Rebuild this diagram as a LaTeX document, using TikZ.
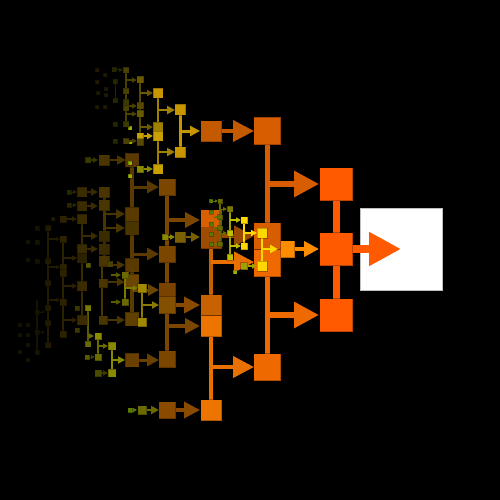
\documentclass[tikz,border=0pt]{standalone}
\usepackage{tikz}
\usetikzlibrary{arrows.meta}

\definecolor{fire}{HTML}{FF5A00}
\definecolor{amber}{HTML}{FF8C00}
\definecolor{emberA}{HTML}{D85C00}
\definecolor{emberB}{HTML}{EE6A00}
\definecolor{emberC}{HTML}{C45A00}
\definecolor{emberD}{HTML}{E87000}
\definecolor{emberE}{HTML}{C86200}
\definecolor{umber}{HTML}{9A4A00}
\definecolor{rustA}{HTML}{D86000}
\definecolor{rustB}{HTML}{A04C00}
\definecolor{rustC}{HTML}{EE7400}
\definecolor{tanA}{HTML}{8A4A00}
\definecolor{tanB}{HTML}{7A4600}
\definecolor{tanC}{HTML}{7A4200}
\definecolor{tanD}{HTML}{825000}
\definecolor{tanE}{HTML}{6A4600}
\definecolor{tanF}{HTML}{6A4000}
\definecolor{tanG}{HTML}{604000}
\definecolor{duskA}{HTML}{5A3A00}
\definecolor{duskB}{HTML}{4A3400}
\definecolor{duskC}{HTML}{4A3600}
\definecolor{duskD}{HTML}{3A2C00}
\definecolor{duskE}{HTML}{2C2200}
\definecolor{duskF}{HTML}{201A00}
\definecolor{duskG}{HTML}{161400}
\definecolor{goldA}{HTML}{FFD700}
\definecolor{goldB}{HTML}{C89600}
\definecolor{goldC}{HTML}{A08000}
\definecolor{goldD}{HTML}{C8A000}
\definecolor{goldE}{HTML}{A08800}
\definecolor{goldF}{HTML}{8A7A00}
\definecolor{mossA}{HTML}{C0C000}
\definecolor{mossB}{HTML}{A0A000}
\definecolor{mossC}{HTML}{8A8A00}
\definecolor{mossD}{HTML}{7A7A00}
\definecolor{mossE}{HTML}{6A6A00}
\definecolor{mossF}{HTML}{5A5A00}
\definecolor{mossG}{HTML}{4A4A00}
\definecolor{mossH}{HTML}{3A3A00}
\definecolor{mossI}{HTML}{262600}
\definecolor{sageA}{HTML}{7A6000}
\definecolor{sageB}{HTML}{6A5A00}
\definecolor{sageC}{HTML}{5A4A00}
\definecolor{sageD}{HTML}{4A4000}
\definecolor{limeA}{HTML}{9AB000}
\definecolor{limeB}{HTML}{5A7A00}

\tikzset{
  tile/.style={draw=black, draw opacity=0.25, line width=0.5pt},
  stalk/.style={line cap=butt},
}
% box of side #3 centred on (#1,#2)
\newcommand{\blk}[4]{\filldraw[tile, fill=#4] ({#1-#3/2},{#2-#3/2}) rectangle ({#1+#3/2},{#2+#3/2});}
% horizontal arrow from #1 to #2 at height #3, width #4, head #5
\newcommand{\arr}[6]{\draw[#6, line width=#4pt, -{Triangle[length=#5pt,width=#5pt]}] (#1,#3) -- (#2,#3);}
% vertical bar
\newcommand{\stalk}[5]{\draw[stalk, #5, line width=#4pt] (#1,#2) -- (#1,#3);}

\begin{document}
\begin{tikzpicture}[x=1pt,y=-1pt]
	\fill[black] (0,0) rectangle (500,500);
	\useasboundingbox (0,0) rectangle (500,500);

	% root
	\filldraw[fill=white, draw=black!25, line width=0.8pt] (360,208) rectangle (442,290);
	\arr{352}{401}{249}{8}{32}{fire}

	% first column
	\stalk{336}{184}{315}{7}{fire}
	\foreach \y in {184,249,315} {
		\blk{336}{\y}{33}{fire}}

	% second column
	\stalk{267}{131}{249}{5}{emberA}
	\stalk{267}{249}{367}{5}{emberB}
	\arr{267}{319}{184}{6}{25}{emberA}
	\arr{267}{319}{315}{6}{25}{emberB}
	\arr{295}{319}{249}{4}{15}{amber}
	\foreach \x/\y/\s/\c in {286/249/17/amber, 267/131/27/emberA, 267/236/27/emberA,
		267/263/27/emberB, 267/367/27/emberB} {
		\blk{\x}{\y}{\s}{\c}}

	% third column
	\stalk{211}{220}{315}{4}{emberE}
	\stalk{211}{315}{410}{4}{emberD}
	\foreach \xa/\xb/\y/\w/\h/\c in {222/254/131/4/21/emberC, 222/254/236/4/20/umber,
		211/254/262/4/20/emberD, 211/254/367/4/21/emberD} {
		\arr{\xa}{\xb}{\y}{\w}{\h}{\c}}
	\foreach \x/\y/\s/\c in {211/131/21/emberC, 211/220/21/rustA, 211/238/21/rustB,
		211/305/21/emberE, 211/326/21/rustC, 211/410/21/rustC} {
		\blk{\x}{\y}{\s}{\c}}

	% fourth column
	\stalk{180}{110}{152}{3}{goldB}
	\stalk{167}{187}{360}{4}{tanB}
	\foreach \xa/\xb/\y/\w/\h/\c in {180/200/131/3/10/goldB, 167/200/220/3.5/15/tanB,
		186/200/237/2.5/9/sageA, 167/200/305/3.5/16/tanA, 167/200/326/3.5/15/tanB,
		176/200/410/3.5/16/tanA} {
		\arr{\xa}{\xb}{\y}{\w}{\h}{\c}}
	\foreach \x/\y/\s/\c in {180/110/11/goldB, 180/152/11/goldB, 180/237/11/sageA,
		167/187/17/tanB, 167/254/17/tanB, 167/291/17/tanC, 167/305/17/tanD,
		167/359/17/tanB, 167/410/17/tanA} {
		\blk{\x}{\y}{\s}{\c}}

	% fifth column
	\stalk{158}{93}{169}{2.5}{goldC}
	\stalk{132}{160}{325}{4}{duskA}
	\stalk{142}{288}{322}{2}{goldF}
	\stalk{112}{346}{373}{2}{mossC}
	\foreach \xa/\xb/\y/\w/\h/\c in {158/175/110/2.5/8/goldC, 158/175/152/2.5/8/goldC,
		132/159/187/3/12/duskA, 132/159/254/3/12/duskA, 132/159/290/3/11/tanE,
		142/159/305/2/7/goldF, 139/159/360/3/12/tanF, 147/159/410/2/8/mossE,
		168/175/237/1.5/5/mossC, 112/125/360/2/7/mossC} {
		\arr{\xa}{\xb}{\y}{\w}{\h}{\c}}
	\foreach \x/\y/\s/\c in {158/93/10/goldB, 158/127/10/goldC, 158/136/10/goldD,
		158/169/10/goldD, 132/160/14/duskA, 132/214/14/duskA, 132/228/14/duskB,
		132/265/14/duskA, 132/281/14/tanE, 132/319/14/tanG, 132/360/14/tanF,
		142/288/9/goldE, 142/322/9/goldE, 142/410/9/mossE, 165/237/6/mossC,
		112/346/8/mossC, 112/373/8/mossC} {
		\blk{\x}{\y}{\s}{\c}}

	% sixth column
	\stalk{140}{80}{142}{2}{sageC}
	\stalk{104}{192}{261}{3}{duskB}
	\stalk{102}{261}{320}{1.5}{duskC}
	\stalk{125}{275}{302}{1.5}{mossD}
	\stalk{98}{336}{357}{1.5}{mossE}
	\stalk{82}{219}{320}{2.5}{duskD}
	\stalk{88}{308}{344}{1.5}{mossF}
	\stalk{220}{201}{244}{1.5}{mossE}
	\stalk{230}{209}{257}{1.5}{mossB}
	\stalk{244}{220}{246}{1.5}{goldA}
	\stalk{262}{233}{266}{2}{goldA}
	\foreach \xa/\xb/\y/\w/\h/\c in {140/153/93/2/6/sageB, 140/153/127/2/6/sageB,
		143/153/136/1.5/6/goldD, 143/153/169/1.5/6/mossC, 109/126/160/2.5/9/duskB,
		91/98/160/1.2/5/mossH, 104/125/214/2.5/9/duskB, 104/125/228/2.5/9/duskB,
		110/125/265/2/8/duskB, 108/125/282/2/8/duskB, 108/125/320/2/8/duskB,
		125/138/288/1.5/5/mossD, 111/121/275/1.2/5/mossF, 111/121/302/1.2/5/mossF,
		98/108/346/1.5/5/mossE, 88/94/336/1.2/5/mossE,
		101/108/373/1.5/5/mossH, 132/137/410/1/4/limeB, 87/98/192/2/7/duskD,
		87/98/206/2/7/duskD, 82/98/236/2/7/duskD, 82/98/249/2/7/duskD,
		90/95/357/1/4/mossH,
		220/227/209/1/4/mossE, 220/227/233/1/4/mossE, 230/241/220/1.2/5/mossA,
		230/241/246/1.2/5/mossA, 244/257/233/1.5/6/goldA, 262/278/249/2/8/goldA,
		247/257/266/1.5/5/mossB, 213/218/201/0.8/3/limeB, 213/218/217/0.8/3/limeB,
		213/218/228/0.8/3/limeB, 213/218/244/0.8/3/limeB} {
		\arr{\xa}{\xb}{\y}{\w}{\h}{\c}}
	\foreach \x/\y/\s/\c in {140/80/7/sageB, 140/106/7/sageC, 140/114/7/sageB,
		140/136/7/goldD, 140/142/7/sageC, 140/169/7/mossC, 130/128/4/limeA,
		130/142/4/limeA, 130/163/4/limeA, 130/176/4/limeA, 104/160/11/duskB,
		88/160/6/mossH, 104/192/11/duskB, 104/205/11/duskC, 104/236/11/duskD,
		104/249/11/duskD, 104/261/11/duskB, 110/264/6/sageD, 88/265/5/mossF,
		103/283/9/duskC, 103/320/9/duskC, 125/275/7/mossE, 125/302/7/mossE,
		98/336/7/mossC, 98/357/7/mossE, 98/373/7/mossG, 87/357/5/mossF,
		130/410/5/limeB, 82/192/10/duskD, 82/206/10/duskD, 88/308/6/mossD,
		88/344/6/mossE, 77/308/5/mossH, 77/330/5/mossH,
		220/201/5/mossE, 220/217/5/mossE, 220/228/5/mossE,
		220/244/5/mossE, 211/201/4/limeB, 211/212/4/limeB, 211/224/4/limeB,
		211/234/4/limeB, 211/244/4/limeB, 230/209/6/mossD, 230/233/6/mossA,
		230/257/6/mossA, 244/220/7/goldA, 244/246/7/goldA, 262/233/10/goldA,
		262/266/10/goldA, 244/266/7/mossB, 235/272/4/limeA} {
		\blk{\x}{\y}{\s}{\c}}

	% faint far left
	\stalk{126}{70}{124}{1.5}{sageD}
	\stalk{115}{82}{101}{1}{mossI}
	\stalk{63}{239}{334}{2}{duskE}
	\stalk{48}{228}{345}{1.5}{duskF}
	\stalk{37}{300}{355}{1.2}{duskG}
	\foreach \xa/\xb/\y/\w/\h/\c in {117/123/70/1/4/mossI, 126/137/80/1.5/5/sageD,
		126/137/106/1.5/5/sageD, 126/137/114/1.5/5/sageD, 126/137/141/1.5/5/sageD,
		72/77/192/1/4/mossI, 72/77/205/1/4/mossI, 67/77/219/1.5/5/duskE,
		63/77/258/1.5/5/duskE, 63/77/286/1.5/5/duskE, 63/77/320/1.5/5/duskE,
		48/60/239/1.2/4/duskF, 48/60/267/1.2/4/duskF, 48/60/300/1.2/4/duskF,
		37/45/312/1/3/duskG, 37/45/332/1/3/duskG} {
		\arr{\xa}{\xb}{\y}{\w}{\h}{\c}}
	\foreach \x/\y/\s/\c in {126/70/6/sageD, 114/70/5/mossI, 126/91/6/sageD,
		126/102/6/mossH, 126/108/6/sageD, 126/124/6/mossH, 126/141/6/sageD,
		115/82/5/mossI, 115/101/5/mossI, 115/124/5/mossI, 115/141/5/mossI,
		97/70/4/duskF, 105/75/4/duskF, 97/82/4/duskF, 98/93/4/duskF,
		106/89/4/duskF, 106/95/4/duskF, 97/107/4/duskF, 105/107/4/duskF,
		69/192/5/mossI, 69/205/5/mossI, 82/219/10/duskD, 82/249/10/duskD,
		82/258/10/duskE, 82/286/10/duskD, 82/320/10/duskD, 63/219/7/duskE,
		53/219/4/duskF, 63/239/7/duskE, 63/267/7/duskE, 63/273/7/duskE,
		63/302/7/duskE, 63/334/7/duskE, 48/228/6/duskF, 48/261/6/duskF,
		48/283/6/duskF, 48/308/6/duskF, 48/323/6/duskF, 48/345/6/duskF,
		37/228/5/duskG, 37/242/5/duskG, 37/261/5/duskG, 37/312/5/duskG,
		37/332/5/duskG, 37/352/5/duskG, 28/242/4/duskG, 28/260/4/duskG,
		28/325/4/duskG, 28/335/4/duskG, 28/345/4/duskG, 28/360/4/duskG,
		20/325/4/duskG, 20/335/4/duskG, 20/352/4/duskG} {
		\blk{\x}{\y}{\s}{\c}}
\end{tikzpicture}
\end{document}
